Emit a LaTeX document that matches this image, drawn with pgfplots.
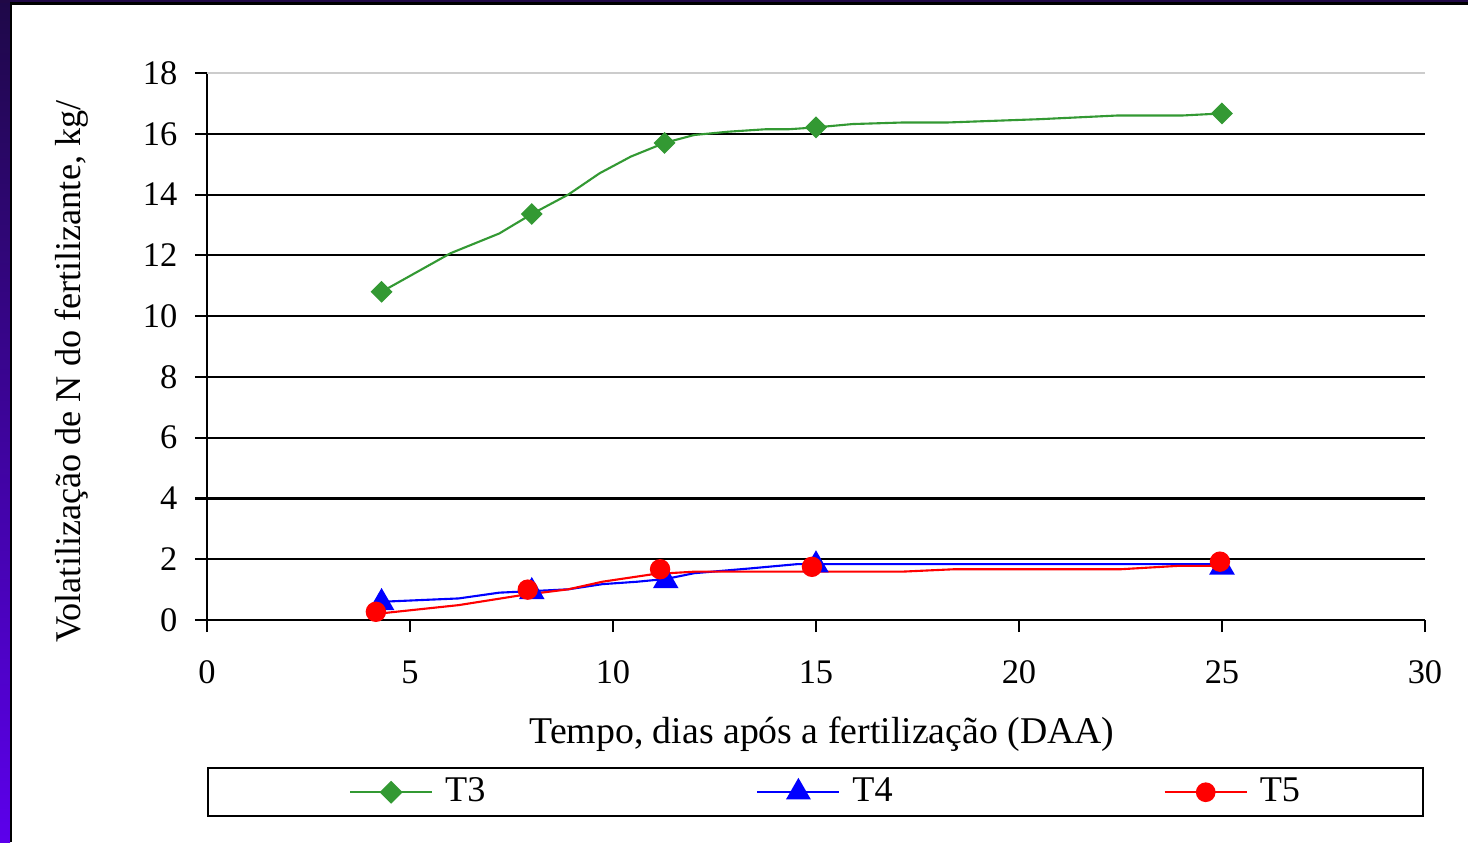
\documentclass[border=0pt]{standalone}
\usepackage{fontspec}
\setmainfont{Liberation Serif}
\usepackage{pgfplots}
\pgfplotsset{compat=1.18}
\definecolor{tgreen}{RGB}{51,153,51}
\definecolor{ptop}{RGB}{30,8,72}
\definecolor{pbot}{RGB}{92,0,235}
\definecolor{pstrip}{RGB}{32,8,70}
\begin{document}
\fontsize{10.3}{12.3}\selectfont
\begin{tikzpicture}[x=1cm,y=1cm]
\path[use as bounding box] (0,0) rectangle (14.68,8.42);
\fill[white] (0,0) rectangle (14.68,8.42);
\shade[top color=ptop, bottom color=pbot] (0,0) rectangle (0.1,8.42);
\fill[pstrip] (0,8.39) rectangle (14.68,8.42);
\fill[black] (0.095,0) rectangle (0.125,8.39);
\fill[black] (0.095,8.37) rectangle (14.68,8.395);
\begin{axis}[
  at={(2.07cm,2.22cm)}, anchor=south west,
  scale only axis, width=12.18cm, height=5.47cm,
  xmin=0, xmax=30, ymin=0, ymax=18,
  axis x line=bottom, axis y line=left,
  axis line style={-, black, line width=0.6pt},
  xtick={0,5,...,30}, ytick={0,2,...,16},
  extra y ticks={18},
  extra y tick style={grid style={gray!40, line width=0.6pt}},
  tick align=outside, major tick length=0.12cm,
  tick style={black, line width=0.6pt},
  ymajorgrids, grid style={black, line width=0.6pt},
  /pgf/number format/assume math mode=true,
  ticklabel style={font=\fontsize{9.8}{11.8}\selectfont},
  xticklabel style={yshift=-0.16cm},
  yticklabel style={xshift=-0.05cm},
  xlabel={Tempo, dias após a fertilização (DAA)},
  ylabel={Volatilização de N do fertilizante, kg/},
  xlabel style={at={(0.505,-0.2084)}, anchor=center, font=\fontsize{10.75}{12.8}\selectfont},
  ylabel style={at={(-0.1108,0.454)}, anchor=center},
  legend columns=3,
  legend image code/.code={\path (-0.3cm,0cm); \draw[mark repeat=2, mark phase=2, #1] plot coordinates {(0cm,0cm) (0.41cm,0cm) (0.82cm,0cm)};},
  legend style={at={(0,-0.2687)}, anchor=north west, draw=black, line width=0.6pt,
    inner xsep=1.11cm, inner ysep=0.045cm,
    nodes={inner ysep=0.05cm, inner xsep=0.12cm},
    /tikz/every even column/.append style={column sep=2.29cm}},
]
% T3
\addplot[tgreen, line width=0.6pt, forget plot] coordinates {
(4.3,10.8) (6.0,12.07) (7.2,12.72) (8.0,13.36) (8.9,14.0) (9.67,14.7) (10.44,15.25) (11.27,15.7) (12.0,15.96) (12.85,16.07) (13.77,16.15) (14.33,16.15) (15.0,16.21) (15.9,16.32) (17.1,16.37) (18.2,16.37) (20.5,16.48) (22.4,16.6) (24.0,16.6) (25.0,16.67)};
% T4
\addplot[blue, line width=0.6pt, forget plot] coordinates {
(4.3,0.6) (6.2,0.71) (7.2,0.9) (8.0,0.95) (8.9,1.01) (9.74,1.18) (10.6,1.26) (11.3,1.35) (12.0,1.54) (13.4,1.70) (14.55,1.84) (15.0,1.84) (25.0,1.84)};
% T5
\addplot[red, line width=0.6pt, forget plot] coordinates {
(4.16,0.2) (6.2,0.49) (7.76,0.82) (8.9,1.01) (9.74,1.26) (11.0,1.51) (12.0,1.59) (14.8,1.59) (17.1,1.59) (18.4,1.67) (22.5,1.67) (23.9,1.78) (24.95,1.78)};
% markers
\addplot[only marks, forget plot, mark=square*, mark size=2pt, mark options={rotate=45, fill=tgreen, draw=tgreen}] coordinates {
(4.3,10.8) (8.0,13.36) (11.27,15.7) (15.0,16.21) (25.0,16.67)};
\addplot[only marks, forget plot, mark=triangle*, mark size=3.8pt, mark options={fill=blue, draw=blue}] coordinates {
(4.3,0.57) (8.0,0.93) (11.3,1.29) (15.0,1.81) (25.0,1.74)};
\addplot[only marks, forget plot, mark=*, mark size=2.7pt, mark options={fill=red, draw=red}] coordinates {
(4.16,0.27) (7.9,1.0) (11.16,1.67) (14.9,1.75) (24.95,1.92)};
\addlegendimage{tgreen, line width=0.6pt, mark=square*, mark size=2pt, mark options={rotate=45, solid, fill=tgreen}}
\addlegendentry{T3}
\addlegendimage{blue, line width=0.6pt, mark=triangle*, mark size=3.5pt, mark options={solid, fill=blue}}
\addlegendentry{T4}
\addlegendimage{red, line width=0.6pt, mark=*, mark size=2.5pt, mark options={solid, fill=red}}
\addlegendentry{T5}
\end{axis}
\end{tikzpicture}
\end{document}
